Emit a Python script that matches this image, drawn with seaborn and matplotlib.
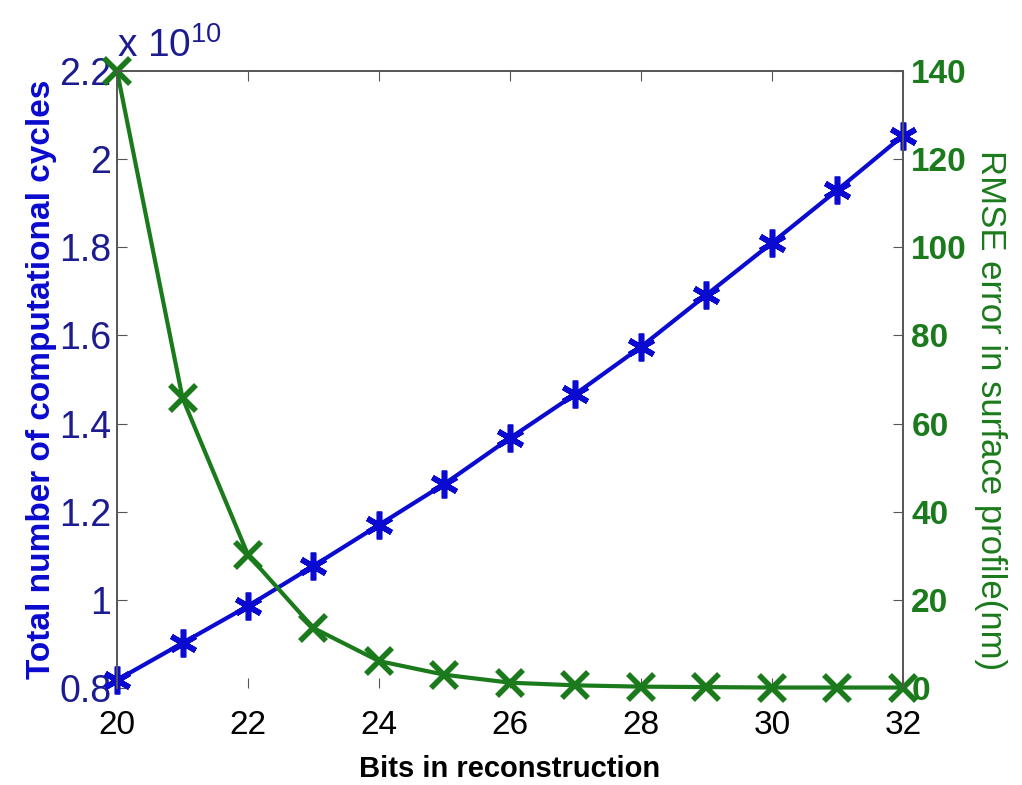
import matplotlib
matplotlib.use("Agg")
import matplotlib.pyplot as plt
import seaborn as sns
import pandas as pd
from matplotlib.ticker import FuncFormatter, FixedLocator

bits = [20, 21, 22, 23, 24, 25, 26, 27, 28, 29, 30, 31, 32]
cycles = [0.818e10, 0.902e10, 0.986e10, 1.077e10, 1.170e10, 1.263e10, 1.367e10,
          1.467e10, 1.574e10, 1.692e10, 1.810e10, 1.930e10, 2.053e10]
rmse = [140.0, 65.8, 30.2, 13.6, 6.1, 3.0, 1.2, 0.6, 0.3, 0.2, 0.1, 0.1, 0.1]
left_ticks = [0.8e10, 1.0e10, 1.2e10, 1.4e10, 1.6e10, 1.8e10, 2.0e10, 2.2e10]
right_ticks = [0, 20, 40, 60, 80, 100, 120, 140]
x_ticks = [20, 22, 24, 26, 28, 30, 32]

df = pd.DataFrame({"bits": bits, "cycles": cycles, "rmse": rmse})

sns.set_style("white")
plt.rcParams['font.family'] = ['Liberation Sans', 'DejaVu Sans']

BLUE = "#0a0ad0"
NAVY = "#1c1c90"
GREEN = "#1b7a1b"

fig = plt.figure(figsize=(10.22, 7.85), dpi=100)
ax = fig.add_axes([0.1145, 0.1236, 0.769, 0.786])
ax2 = ax.twinx()

sns.lineplot(data=df, x="bits", y="cycles", ax=ax, color=BLUE, lw=3,
             marker=(6, 2, 0), markersize=20, markeredgewidth=4,
             markeredgecolor=BLUE, clip_on=False)
sns.lineplot(data=df, x="bits", y="rmse", ax=ax2, color=GREEN, lw=3,
             marker="x", markersize=19, markeredgewidth=4,
             markeredgecolor=GREEN, clip_on=False)

ax.set_xlim(20, 32)
ax.set_ylim(0.8e10, 2.2e10)
ax2.set_ylim(0, 140)

ax.xaxis.set_major_locator(FixedLocator(x_ticks))
ax.yaxis.set_major_locator(FixedLocator(left_ticks))
ax2.yaxis.set_major_locator(FixedLocator(right_ticks))
ax.yaxis.set_major_formatter(FuncFormatter(lambda v, p: f"{v/1e10:g}"))

for a in (ax, ax2):
    for s in a.spines.values():
        s.set_color("#555555")
        s.set_linewidth(1.2)
    a.spines["bottom"].set_visible(False)

ax.tick_params(axis="x", direction="in", length=7, top=True, bottom=True,
               labelsize=24, colors="#555555", labelcolor="black", pad=16)
ax.tick_params(axis="y", direction="in", length=7, left=True, right=False,
               labelsize=27, colors="#555555", labelcolor=NAVY, pad=4)
ax2.tick_params(axis="y", direction="in", length=7, right=True, left=False,
                labelsize=24, colors="#555555", labelcolor=GREEN, pad=6)
for t in ax2.get_yticklabels():
    t.set_fontweight("bold")

ax.set_xlabel("Bits in reconstruction", fontsize=21, fontweight="bold",
              color="black", labelpad=10)
ax.set_ylabel("Total number of computational cycles", fontsize=24,
              fontweight="bold", color=BLUE, labelpad=2)
ax2.set_ylabel("RMSE error in surface profile(nm)", fontsize=25,
               color=GREEN, rotation=270, va="center", ha="center")
ax2.yaxis.set_label_coords(1.112, 0.45)

ax.text(0.0, 1.01, r"x $\mathregular{10^{10}}$", transform=ax.transAxes,
        fontsize=28, color=NAVY, ha="left", va="bottom")

ax2.set_zorder(ax.get_zorder() + 1)
ax2.patch.set_visible(False)

fig.savefig("out.png", dpi=100)
